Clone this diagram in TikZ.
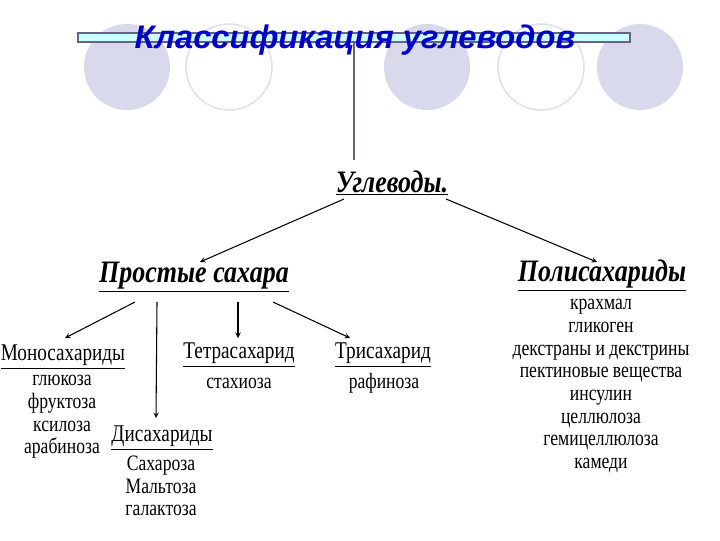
\documentclass[tikz,border=0pt]{standalone}
\usepackage{fontspec}
\setmainfont{Liberation Serif}
\newfontfamily\titlefont{Liberation Sans}
\usetikzlibrary{arrows,positioning,calc}

\definecolor{titleblue}{RGB}{0,0,205}
\definecolor{barfill}{RGB}{204,255,255}
\definecolor{barline}{RGB}{100,100,130}
\definecolor{disc}{RGB}{217,217,236}
\definecolor{ring}{RGB}{225,225,232}

\tikzset{
  head/.style={font=\fontsize{19.5}{20}\selectfont\bfseries\itshape,inner sep=1pt,
    yscale=1.2,transform shape},
  sub/.style={font=\fontsize{14.4}{14}\selectfont,inner sep=1pt,
    yscale=1.25,transform shape},
  items/.style={font=\fontsize{13.2}{13.6}\selectfont,align=center,inner sep=1pt,
    yscale=1.25,transform shape},
  arr/.style={->,thick}
}

\begin{document}
\begin{tikzpicture}[>=stealth,x=0.75pt,y=-0.75pt]
\useasboundingbox (0,0) rectangle (720,540);
% decoration at the top
\fill[disc] (127,67) circle (43);
\draw[ring,line width=1.2pt] (229,67) circle (43);
\fill[disc] (427,67) circle (43);
\draw[ring,line width=1.2pt] (541,67) circle (43);
\fill[disc] (640,67) circle (43);
\draw[barline,line width=1.5pt] (354,42)--(354,160);
\draw[barline,fill=barfill,line width=1.5pt] (78,33) rectangle (630,42);
\node[text=titleblue,font=\titlefont\fontsize{24.5}{26}\selectfont\bfseries\itshape]
  (title) at (355,40) {Классификация углеводов};

% tree
\node[head] (ugl) at (392,183) {\underline{Углеводы.}};
\node[head] (pros) at (194,277) {\underline{Простые сахара}};
\node[head] (poly) at (602,276) {\underline{Полисахариды}};
\node[items] (polyl) at (601,386) {крахмал\\гликоген\\декстраны и декстрины\\пектиновые вещества\\инсулин\\целлюлоза\\гемицеллюлоза\\камеди};

\node[sub] (mono) at (63,357) {\underline{Моносахариды}};
\node[items] (monol) at (62,417) {глюкоза\\фруктоза\\ксилоза\\арабиноза};
\node[sub] (di) at (162,438) {\underline{Дисахариды}};
\node[items] (dil) at (161,486) {Сахароза\\Мальтоза\\галактоза};
\node[sub] (tetra) at (239,355) {\underline{Тетрасахарид}};
\node[items] (tetral) at (239,383) {стахиоза};
\node[sub] (tri) at (383,355) {\underline{Трисахарид}};
\node[items] (tril) at (384,383) {рафиноза};

\draw[arr] ($(ugl)+(-48,16)$) -- ($(pros)+(6,-15)$);
\draw[arr] ($(ugl)+(54,16)$) -- ($(poly)+(-5,-14)$);
\draw[arr] ($(pros)+(-59,25)$) -- ($(mono)+(2,-19)$);
\draw[arr] ($(pros)+(-37,25)$) -- ($(di)+(-6,-20)$);
\draw[arr] ($(pros)+(44,25)$) -- ($(tetra)+(-1,-17)$);
\draw[arr] ($(pros)+(79,25)$) -- ($(tri)+(-33,-17)$);
\end{tikzpicture}
\end{document}
